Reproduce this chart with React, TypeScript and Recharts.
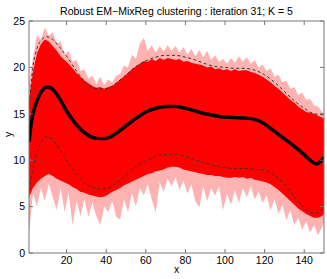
import React from "react";
import { ComposedChart, Area, Line, XAxis, YAxis, Label } from "recharts";

// sample positions for the red band (every other x)
const xs = [
  1, 3, 5, 7, 9, 11, 13, 15, 17, 19, 21, 23, 25, 27, 29, 31, 33, 35, 37, 39,
  41, 43, 45, 47, 49, 51, 53, 55, 57, 59, 61, 63, 65, 67, 69, 71, 73, 75, 77,
  79, 81, 83, 85, 87, 89, 91, 93, 95, 97, 99, 101, 103, 105, 107, 109, 111,
  113, 115, 117, 119, 121, 123, 125, 127, 129, 131, 133, 135, 137, 139, 141,
  143, 145, 147, 149, 150,
];

// outer (pale) tips of the red curves
const tipHi = [
  18.5, 21.0, 23.5, 23.0, 24.3, 23.4, 23.8, 22.6, 22.8, 21.4, 21.8, 20.6, 20.8,
  19.6, 19.8, 18.8, 19.1, 18.2, 19.0, 18.1, 18.7, 18.4, 19.1, 19.3, 20.2, 20.0,
  21.4, 20.9, 22.6, 23.2, 21.8, 22.4, 21.6, 22.3, 21.7, 22.4, 21.8, 22.3, 21.6,
  22.2, 21.4, 22.0, 21.2, 21.9, 21.1, 21.8, 20.8, 21.3, 20.6, 20.9, 20.4, 21.0,
  20.5, 21.2, 20.6, 21.1, 20.4, 20.8, 20.0, 20.3, 19.6, 19.9, 19.0, 19.2, 18.4,
  18.6, 17.7, 17.9, 17.0, 17.3, 16.5, 16.6, 15.9, 15.8, 15.2, 15.1,
];
const tipLo = [
  2.0, 6.5, 5.0, 7.0, 5.6, 7.5, 6.0, 4.6, 7.0, 4.4, 6.5, 3.0, 5.6, 4.0, 5.8,
  3.9, 5.4, 4.0, 3.0, 5.0, 4.4, 5.6, 3.9, 3.6, 5.8, 4.4, 6.4, 5.0, 7.0, 6.2,
  7.4, 5.8, 4.4, 7.6, 6.6, 8.0, 7.2, 8.2, 6.8, 7.8, 6.4, 7.4, 5.6, 4.9, 7.2,
  5.6, 7.0, 6.2, 7.2, 4.6, 6.4, 5.2, 6.8, 5.4, 7.0, 6.0, 7.2, 5.8, 6.6, 5.4,
  6.2, 4.6, 5.8, 4.2, 5.2, 3.5, 4.6, 3.0, 3.8, 2.5, 3.4, 2.2, 3.0, 1.9, 2.8,
  3.2,
];

// dense (solid red) part of the curves
const coreHi = [
  16.5, 19.5, 21.5, 22.5, 23.0, 22.8, 22.3, 21.8, 21.2, 20.8, 20.4, 19.9, 19.4,
  19.0, 18.6, 18.3, 18.0, 17.8, 17.9, 17.7, 17.9, 18.0, 18.3, 18.7, 19.0, 19.4,
  19.8, 20.1, 20.4, 20.7, 20.6, 20.9, 20.7, 21.0, 20.8, 21.0, 20.9, 20.8, 20.9,
  20.6, 20.7, 20.5, 20.4, 20.3, 20.2, 20.0, 20.1, 19.8, 19.9, 19.7, 19.8, 19.6,
  19.8, 19.6, 19.7, 19.7, 19.5, 19.4, 19.2, 19.0, 18.7, 18.4, 18.0, 17.7, 17.3,
  16.9, 16.5, 16.2, 15.8, 15.5, 15.2, 15.1, 15.0, 14.8, 14.6, 14.5,
];
const coreLo = [
  6.0, 7.0, 7.6, 8.0, 8.3, 8.5, 8.3, 8.0, 7.8, 7.6, 7.4, 7.1, 6.9, 6.6, 6.5,
  6.3, 6.2, 6.1, 6.0, 6.1, 6.3, 6.6, 6.8, 7.0, 7.3, 7.5, 7.7, 7.9, 8.1, 8.3,
  8.5, 8.6, 8.8, 8.9, 9.0, 9.2, 9.3, 9.3, 9.2, 9.0, 8.9, 8.8, 8.7, 8.6, 8.5,
  8.4, 8.4, 8.3, 8.3, 8.2, 8.1, 8.1, 8.2, 8.1, 8.2, 8.0, 8.1, 7.9, 7.8, 7.7,
  7.6, 7.4, 7.1, 6.8, 6.4, 6.0, 5.6, 5.2, 4.8, 4.5, 4.2, 4.0, 3.8, 3.8, 4.0,
  4.2,
];

// cluster mean
const meanX = [
  1, 2, 3, 4.5, 6, 8, 10, 12, 14, 16, 20, 25, 30, 35, 38, 42, 45, 50, 55, 60,
  65, 70, 75, 80, 85, 90, 95, 100, 105, 110, 115, 120, 125, 130, 135, 140, 143,
  146, 148, 150,
];
const meanY = [
  12.0, 13.8, 15.0, 16.1, 16.9, 17.6, 17.9, 17.8, 17.4, 16.8, 15.3, 13.8, 12.8,
  12.35, 12.3, 12.5, 12.9, 13.7, 14.5, 15.2, 15.6, 15.8, 15.8, 15.6, 15.3, 15.0,
  14.8, 14.65, 14.6, 14.55, 14.4, 13.9, 13.1, 12.3, 11.5, 10.6, 10.0, 9.6, 9.8,
  10.3,
];

// upper / lower confidence curves
const upX = [
  1, 2, 3, 5, 8, 10, 13, 16, 20, 25, 30, 35, 40, 45, 50, 55, 60, 65, 70, 75,
  80, 85, 90, 95, 100, 105, 110, 115, 120, 125, 130, 135, 140, 145, 150,
];
const upY = [
  15.5, 18.0, 20.0, 22.0, 23.1, 23.3, 23.0, 22.3, 21.2, 19.6, 18.3, 17.7, 17.7,
  18.3, 19.2, 20.1, 20.7, 21.1, 21.3, 21.3, 21.1, 20.8, 20.4, 20.1, 20.0, 19.9,
  19.9, 19.7, 19.2, 18.4, 17.4, 16.4, 15.6, 15.0, 14.9,
];
const loX = [
  1, 2, 4, 6, 8, 10, 13, 16, 20, 25, 30, 35, 40, 45, 50, 55, 60, 65, 70, 75,
  80, 85, 90, 95, 100, 105, 110, 115, 120, 125, 130, 135, 140, 143, 146, 148,
  150,
];
const loY = [
  6.8, 8.0, 10.0, 11.4, 12.2, 12.5, 12.2, 11.3, 10.0, 8.5, 7.4, 6.95, 6.9, 7.5,
  8.4, 9.3, 9.9, 10.4, 10.6, 10.6, 10.4, 10.0, 9.7, 9.4, 9.2, 9.1, 9.1, 9.0,
  8.9, 8.4, 7.4, 6.1, 4.9, 4.4, 4.3, 4.5, 5.0,
];

const xTicks = [20, 40, 60, 80, 100, 120, 140];
const yTicks = [0, 5, 10, 15, 20, 25];

const TITLE = "Robust EM\u2212MixReg clustering : iteration 31; K = 5";
const FONT = "'Liberation Sans', Arial, sans-serif";
const AXIS = "#777";

export default function App() {
  const band = xs.map((x, i) => ({
    x,
    tip: [tipLo[i], tipHi[i]],
    core: [coreLo[i], coreHi[i]],
  }));
  const mean = meanX.map((x, i) => ({ x, y: meanY[i] }));
  const up = upX.map((x, i) => ({ x, y: upY[i] }));
  const lo = loX.map((x, i) => ({ x, y: loY[i] }));

  const tick = { fill: "#000", fontSize: 10.5, fontFamily: FONT };
  const labelStyle = { fontSize: 10.5, fontFamily: FONT, fill: "#000" };

  return (
    <div style={{ width: 327, height: 279, background: "#fff" }}>
      <style>{`body{margin:0}`}</style>
      <ComposedChart
        width={327}
        height={279}
        data={band}
        margin={{ top: 20, right: 2, bottom: 0, left: 0 }}
      >
        <XAxis
          xAxisId="b"
          dataKey="x"
          type="number"
          domain={[1, 150]}
          ticks={xTicks}
          interval={0}
          allowDataOverflow
          height={26}
          tickSize={-4}
          tickMargin={8}
          stroke={AXIS}
          tick={tick}
        >
          <Label value="x" position="insideBottom" offset={6} style={labelStyle} />
        </XAxis>
        <XAxis
          xAxisId="t"
          dataKey="x"
          type="number"
          orientation="top"
          domain={[1, 150]}
          ticks={xTicks}
          interval={0}
          allowDataOverflow
          height={1}
          tickSize={-4}
          stroke={AXIS}
          tickFormatter={() => ""}
        >
          <Label value={TITLE} position="top" offset={5} style={labelStyle} />
        </XAxis>
        <YAxis
          yAxisId="l"
          type="number"
          domain={[0, 25]}
          ticks={yTicks}
          interval={0}
          allowDataOverflow
          width={29}
          tickSize={-4}
          tickMargin={8}
          stroke={AXIS}
          tick={tick}
        >
          <Label
            value="y"
            angle={-90}
            position="insideLeft"
            offset={8}
            style={labelStyle}
          />
        </YAxis>
        <YAxis
          yAxisId="r"
          orientation="right"
          type="number"
          domain={[0, 25]}
          ticks={yTicks}
          interval={0}
          allowDataOverflow
          width={1}
          tickSize={-4}
          stroke={AXIS}
          tickFormatter={() => ""}
        />
        <Area
          xAxisId="b"
          yAxisId="l"
          type="linear"
          dataKey="tip"
          stroke="none"
          fill="#ff0000"
          fillOpacity={0.3}
          dot={false}
          activeDot={false}
          isAnimationActive={false}
        />
        <Area
          xAxisId="b"
          yAxisId="l"
          type="linear"
          dataKey="core"
          stroke="none"
          fill="#ff0000"
          fillOpacity={1}
          dot={false}
          activeDot={false}
          isAnimationActive={false}
        />
        <Line
          xAxisId="b"
          yAxisId="l"
          data={up}
          dataKey="y"
          type="monotone"
          stroke="#333"
          strokeWidth={1}
          strokeDasharray="3 2.5"
          dot={false}
          activeDot={false}
          isAnimationActive={false}
        />
        <Line
          xAxisId="b"
          yAxisId="l"
          data={lo}
          dataKey="y"
          type="monotone"
          stroke="#333"
          strokeWidth={1}
          strokeDasharray="3 2.5"
          dot={false}
          activeDot={false}
          isAnimationActive={false}
        />
        <Line
          xAxisId="b"
          yAxisId="l"
          data={mean}
          dataKey="y"
          type="monotone"
          stroke="#000"
          strokeWidth={3.5}
          dot={false}
          activeDot={false}
          isAnimationActive={false}
        />
      </ComposedChart>
    </div>
  );
}
